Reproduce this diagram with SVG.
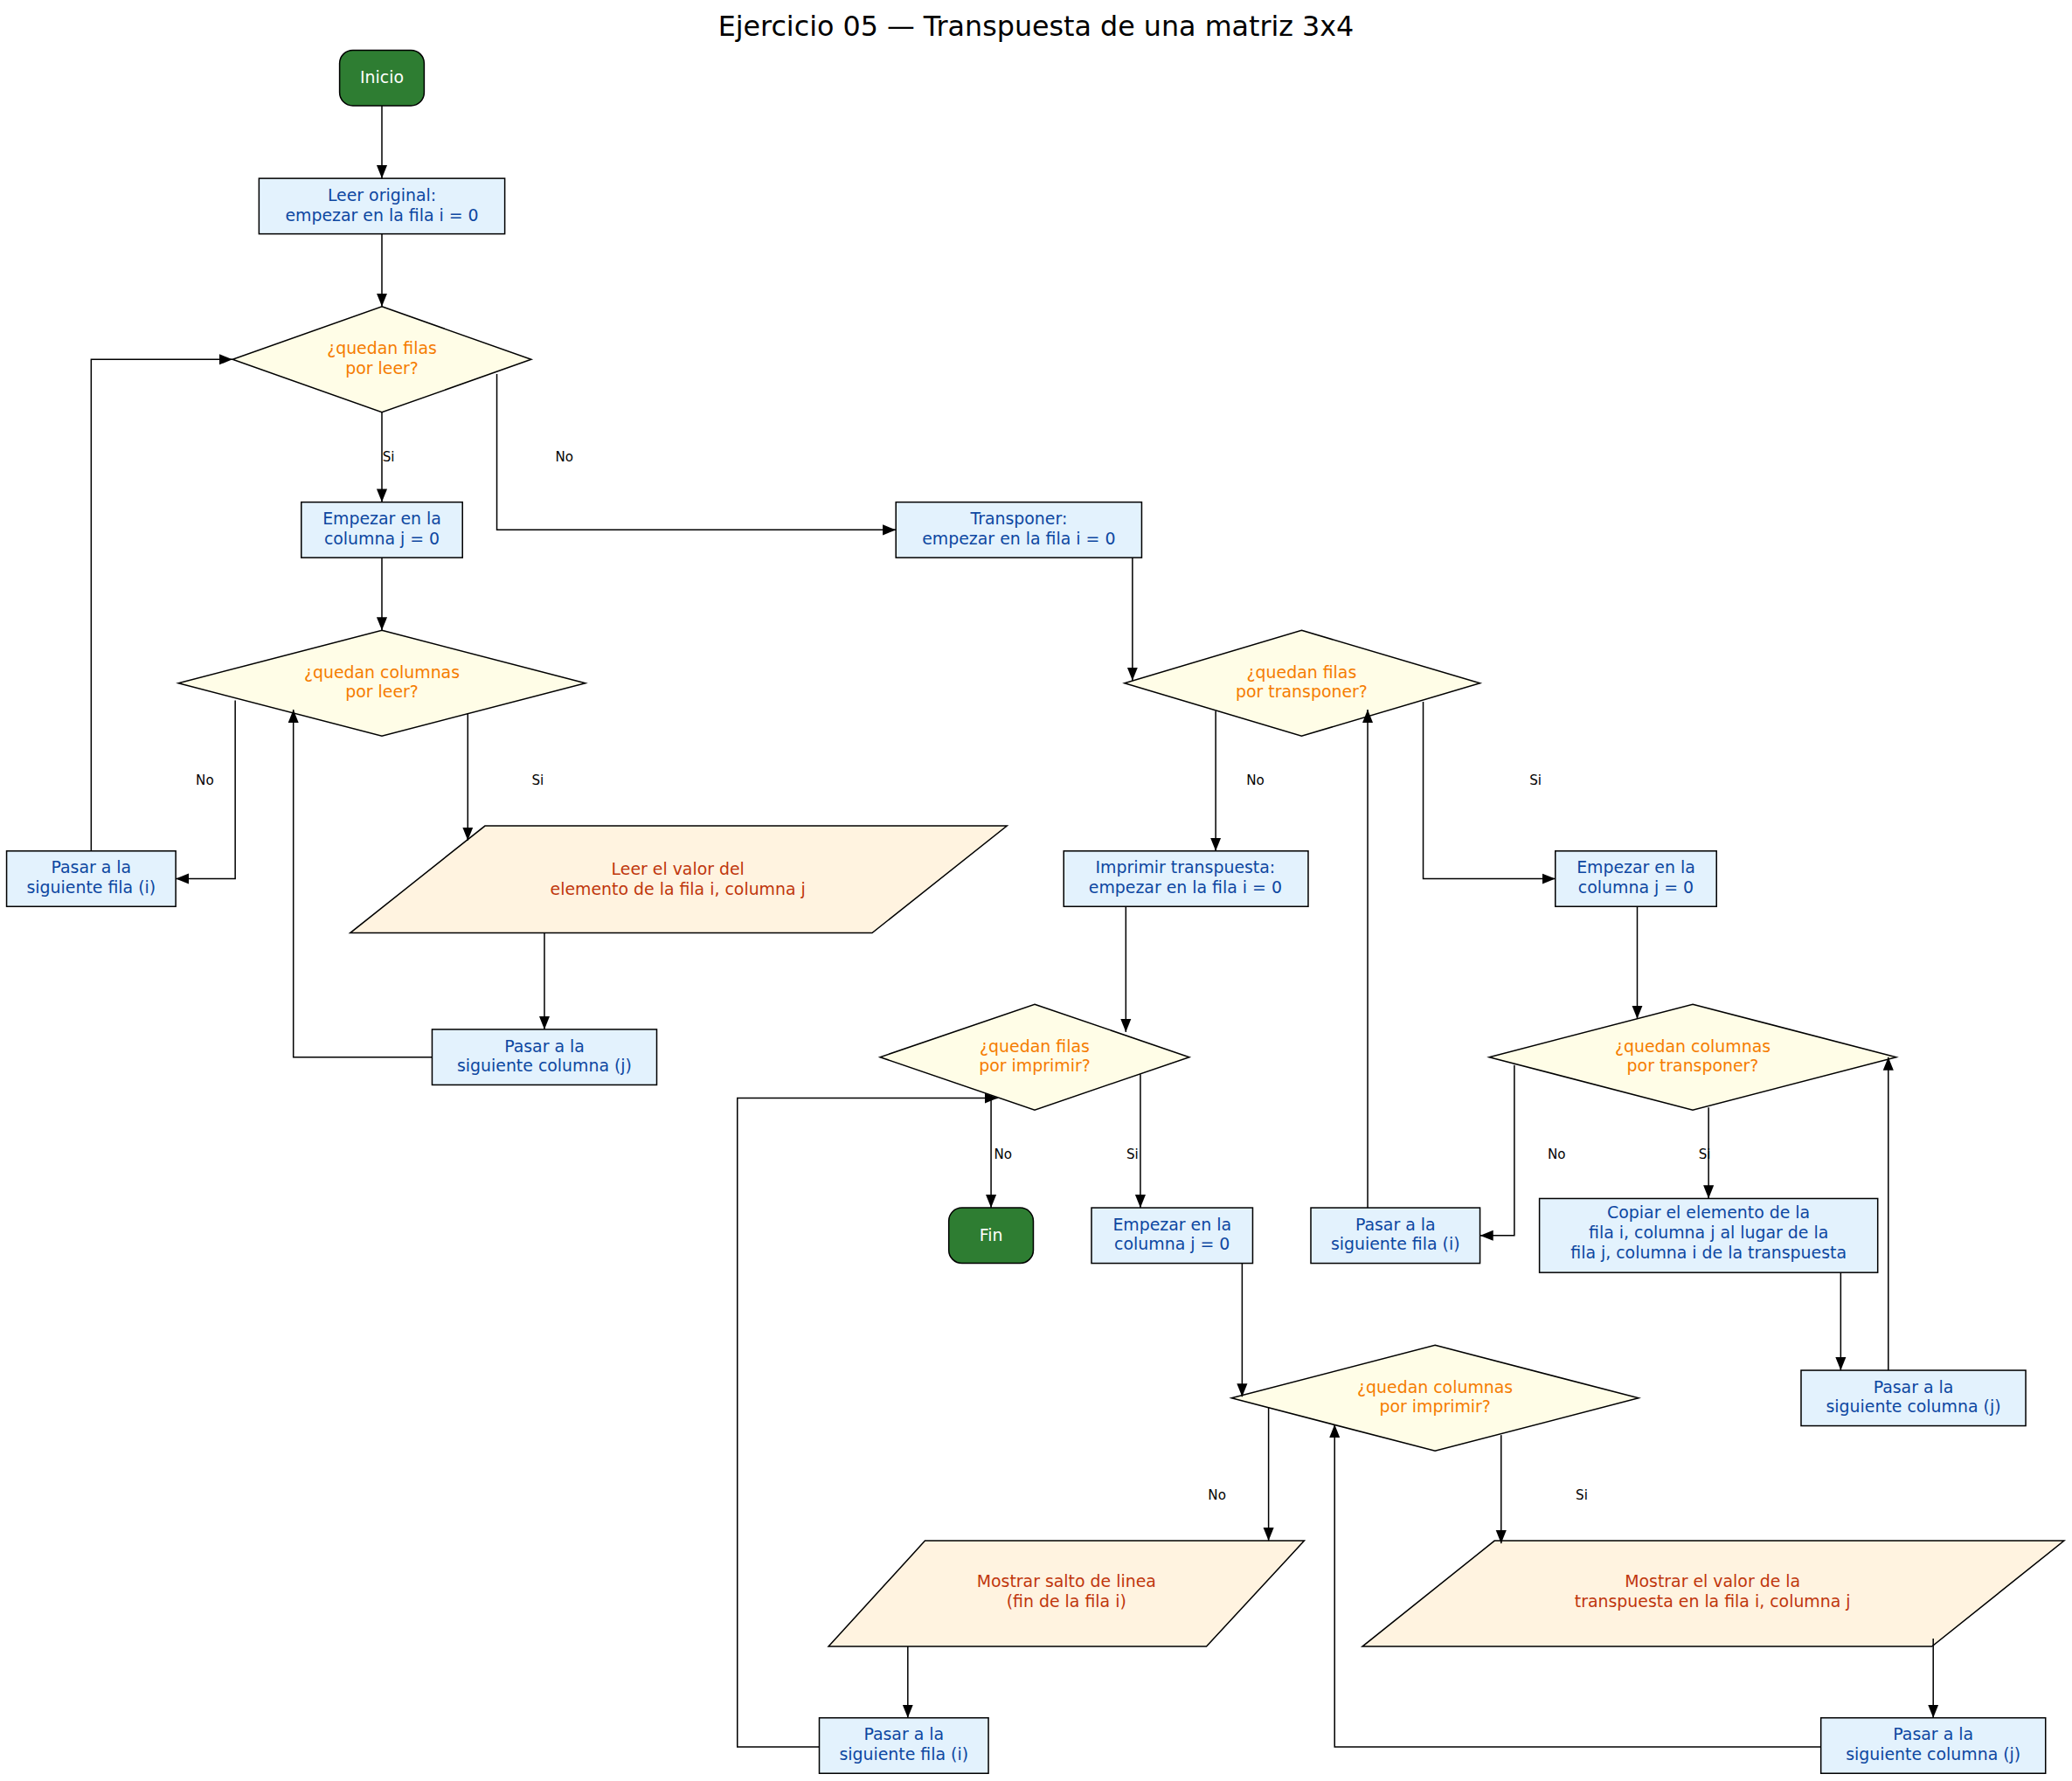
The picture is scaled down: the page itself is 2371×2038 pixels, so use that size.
<svg xmlns="http://www.w3.org/2000/svg" width="2371" height="2038" viewBox="0 0 2371 2038">
<defs>
<marker id="ah" viewBox="0 0 10 10" refX="10" refY="5" markerWidth="10" markerHeight="10" markerUnits="userSpaceOnUse" orient="auto"><path d="M0,1 L10,5 L0,9 z" fill="#000"/></marker>
<style>
text{font-family:"DejaVu Sans",Verdana,sans-serif;text-anchor:middle}
.t{font-size:12.5px}
.box rect{fill:#e3f2fd;stroke:#000;stroke-width:1}
.box text{fill:#0d47a1}
.dec polygon{fill:#fffde7;stroke:#000;stroke-width:1}
.dec text{fill:#f57c00}
.io polygon{fill:#fff3e0;stroke:#000;stroke-width:1}
.io text{fill:#bf360c}
.term rect{fill:#2e7d32;stroke:#000;stroke-width:1}
.term text{fill:#fff}
.e path{fill:none;stroke:#000;stroke-width:1;marker-end:url(#ah)}
.lb{font-size:10px;fill:#000}
</style>
</defs>
<rect width="2371" height="2038" fill="#fff"/>
<g transform="scale(1.5121)">
<text x="784" y="27" style="font-size:21px">Ejercicio 05 — Transpuesta de una matriz 3x4</text>

<g id="inicio" class="term"><rect x="257" y="38" width="64" height="42" rx="10"/><text class="t" x="289" y="63">Inicio</text></g>
<g id="leer" class="box"><rect x="196" y="135" width="186" height="42"/><text class="t" x="289" y="152">Leer original:</text><text class="t" x="289" y="167">empezar en la fila i = 0</text></g>
<g id="d1" class="dec"><polygon points="289,232 402,272 289,312 176,272"/><text class="t" x="289" y="268">¿quedan filas</text><text class="t" x="289" y="283">por leer?</text></g>
<g id="e1" class="box"><rect x="228" y="380" width="122" height="42"/><text class="t" x="289" y="397">Empezar en la</text><text class="t" x="289" y="412">columna j = 0</text></g>
<g id="transp" class="box"><rect x="678" y="380" width="186" height="42"/><text class="t" x="771" y="397">Transponer:</text><text class="t" x="771" y="412">empezar en la fila i = 0</text></g>
<g id="d2" class="dec"><polygon points="289,477 443,517 289,557 135,517"/><text class="t" x="289" y="513">¿quedan columnas</text><text class="t" x="289" y="528">por leer?</text></g>
<g id="pf1" class="box"><rect x="5" y="644" width="128" height="42"/><text class="t" x="69" y="661">Pasar a la</text><text class="t" x="69" y="676">siguiente fila (i)</text></g>
<g id="io1" class="io"><polygon points="367,625 762,625 660,706 265,706"/><text class="t" x="513" y="662">Leer el valor del</text><text class="t" x="513" y="677">elemento de la fila i, columna j</text></g>
<g id="pc1" class="box"><rect x="327" y="779" width="170" height="42"/><text class="t" x="412" y="796">Pasar a la</text><text class="t" x="412" y="811">siguiente columna (j)</text></g>
<g id="d3" class="dec"><polygon points="985,477 1120,517 985,557 851,517"/><text class="t" x="985" y="513">¿quedan filas</text><text class="t" x="985" y="528">por transponer?</text></g>
<g id="impr" class="box"><rect x="805" y="644" width="185" height="42"/><text class="t" x="897" y="661">Imprimir transpuesta:</text><text class="t" x="897" y="676">empezar en la fila i = 0</text></g>
<g id="e2" class="box"><rect x="1177" y="644" width="122" height="42"/><text class="t" x="1238" y="661">Empezar en la</text><text class="t" x="1238" y="676">columna j = 0</text></g>
<g id="d4" class="dec"><polygon points="783,760 900,800 783,840 666,800"/><text class="t" x="783" y="796">¿quedan filas</text><text class="t" x="783" y="811">por imprimir?</text></g>
<g id="d5" class="dec"><polygon points="1281,760 1435,800 1281,840 1127,800"/><text class="t" x="1281" y="796">¿quedan columnas</text><text class="t" x="1281" y="811">por transponer?</text></g>
<g id="fin" class="term"><rect x="718" y="914" width="64" height="42" rx="10"/><text class="t" x="750" y="939">Fin</text></g>
<g id="e3" class="box"><rect x="826" y="914" width="122" height="42"/><text class="t" x="887" y="931">Empezar en la</text><text class="t" x="887" y="946">columna j = 0</text></g>
<g id="pf2" class="box"><rect x="992" y="914" width="128" height="42"/><text class="t" x="1056" y="931">Pasar a la</text><text class="t" x="1056" y="946">siguiente fila (i)</text></g>
<g id="copiar" class="box"><rect x="1165" y="907" width="256" height="56"/><text class="t" x="1293" y="922">Copiar el elemento de la</text><text class="t" x="1293" y="937">fila i, columna j al lugar de la</text><text class="t" x="1293" y="952">fila j, columna i de la transpuesta</text></g>
<g id="pc2" class="box"><rect x="1363" y="1037" width="170" height="42"/><text class="t" x="1448" y="1054">Pasar a la</text><text class="t" x="1448" y="1069">siguiente columna (j)</text></g>
<g id="d6" class="dec"><polygon points="1086,1018 1240,1058 1086,1098 932,1058"/><text class="t" x="1086" y="1054">¿quedan columnas</text><text class="t" x="1086" y="1069">por imprimir?</text></g>
<g id="io2" class="io"><polygon points="700,1166 987,1166 913,1246 627,1246"/><text class="t" x="807" y="1201">Mostrar salto de linea</text><text class="t" x="807" y="1216">(fin de la fila i)</text></g>
<g id="io3" class="io"><polygon points="1131,1166 1562,1166 1462,1246 1031,1246"/><text class="t" x="1296" y="1201">Mostrar el valor de la</text><text class="t" x="1296" y="1216">transpuesta en la fila i, columna j</text></g>
<g id="pf3" class="box"><rect x="620" y="1300" width="128" height="42"/><text class="t" x="684" y="1317">Pasar a la</text><text class="t" x="684" y="1332">siguiente fila (i)</text></g>
<g id="pc3" class="box"><rect x="1378" y="1300" width="170" height="42"/><text class="t" x="1463" y="1317">Pasar a la</text><text class="t" x="1463" y="1332">siguiente columna (j)</text></g>

<g id="edges" class="e">
<path d="M289,80 V135"/>
<path d="M289,177 V232"/>
<path d="M289,312 V380"/>
<path d="M376,283 V401 H678"/>
<path d="M289,422 V477"/>
<path d="M178,530 V665 H133"/>
<path d="M354,540 V636"/>
<path d="M412,706 V779"/>
<path d="M327,800 H222 V537"/>
<path d="M69,644 V272 H176"/>
<path d="M857,422 V515"/>
<path d="M920,538 V644"/>
<path d="M1077,531 V665 H1177"/>
<path d="M1035,914 V537"/>
<path d="M852,686 V781"/>
<path d="M1239,686 V771"/>
<path d="M1146,806 V935 H1120"/>
<path d="M1293,838 V907"/>
<path d="M1393,963 V1037"/>
<path d="M1429,1037 V800"/>
<path d="M750,830 V914"/>
<path d="M863,813 V914"/>
<path d="M940,956 V1057"/>
<path d="M960,1065 V1166"/>
<path d="M1136,1086 V1168"/>
<path d="M687,1246 V1300"/>
<path d="M1463,1240 V1300"/>
<path d="M1378,1322 H1010 V1078"/>
<path d="M620,1322 H558 V831 H755"/>
</g>
<g id="labels">
<text class="lb" x="294" y="349">Si</text>
<text class="lb" x="427" y="349">No</text>
<text class="lb" x="155" y="594">No</text>
<text class="lb" x="407" y="594">Si</text>
<text class="lb" x="950" y="594">No</text>
<text class="lb" x="1162" y="594">Si</text>
<text class="lb" x="1178" y="877">No</text>
<text class="lb" x="1290" y="877">Si</text>
<text class="lb" x="759" y="877">No</text>
<text class="lb" x="857" y="877">Si</text>
<text class="lb" x="921" y="1135">No</text>
<text class="lb" x="1197" y="1135">Si</text>
</g>
</g>
</svg>
